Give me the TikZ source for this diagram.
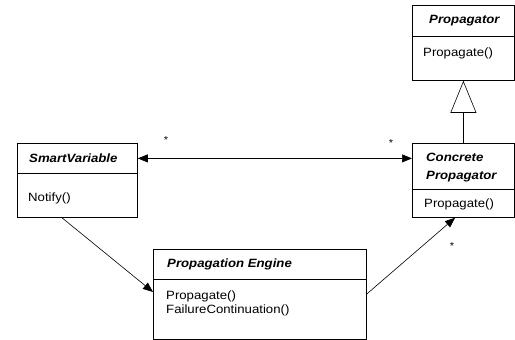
\documentclass[tikz,border=0pt]{standalone}
\usepackage{fontspec}
\setmainfont{Liberation Sans}[FakeStretch=1.1]
\usetikzlibrary{arrows.meta,calc}

\begin{document}
\begin{tikzpicture}[x=1pt,y=-1pt,
  part/.style={draw, line width=0.8pt, rectangle, inner sep=0, anchor=north west},
  hdr/.style={font=\fontsize{12}{18}\selectfont\bfseries\itshape, anchor=west, inner sep=0, align=left},
  meth/.style={font=\fontsize{12}{14}\selectfont, anchor=west, inner sep=0},
  mult/.style={font=\fontsize{10}{10}\selectfont, inner sep=0},
  link/.style={line width=0.6pt, -{Triangle[length=10pt,width=8pt]}},
  both/.style={line width=0.6pt, {Triangle[length=10pt,width=8pt]}-{Triangle[length=10pt,width=8pt]}},
  inherit/.style={line width=0.6pt, -{Triangle[open,length=32pt,width=26pt,line width=0.6pt]}}]
\useasboundingbox (0,0) rectangle (515,340);

% SmartVariable
\node[part, minimum width=120pt, minimum height=30pt] (svh) at (17,143) {};
\node[part, minimum width=120pt, minimum height=44pt] (svb) at (17,173) {};
\node[hdr] (svt) at (29,158) {SmartVariable};
\node[meth] (svm) at (28,198) {Notify()};

% Propagator
\node[part, minimum width=102pt, minimum height=31pt] (ph) at (412,5) {};
\node[part, minimum width=102pt, minimum height=44pt] (pb) at (412,36) {};
\node[hdr] (pt) at (429,21) {Propagator};
\node[meth] (pm) at (423,53) {Propagate()};

% Concrete Propagator
\node[part, minimum width=102pt, minimum height=46pt] (cph) at (412,143) {};
\node[part, minimum width=102pt, minimum height=28pt] (cpb) at (412,189) {};
\node[hdr] (cpt) at (426,168) {Concrete\\Propagator};
\node[meth] (cpm) at (424,204) {Propagate()};

% Propagation Engine
\node[part, minimum width=213pt, minimum height=30pt] (eh) at (153,249) {};
\node[part, minimum width=213pt, minimum height=60pt] (eb) at (153,279) {};
\node[hdr] (et) at (167,264) {Propagation Engine};
\node[meth] (em1) at (166,296) {Propagate()};
\node[meth] (em2) at (166,310) {FailureContinuation()};

% connectors
\draw[both] (svh.east) -- (svh.east -| cph.west);
\draw[inherit] (cph.north) -- (pb.south);
\draw[link] ($(svb.south west)+(45,0)$) -- ($(eb.north west)+(0,13)$);
\draw[link] ($(eb.north east)+(0,15)$) -- ($(cpb.south west)+(43,0)$);

% multiplicities
\node[mult] (s1) at (166,140) {*};
\node[mult] (s2) at (391,143) {*};
\node[mult] (s3) at (452,246) {*};
\end{tikzpicture}
\end{document}
